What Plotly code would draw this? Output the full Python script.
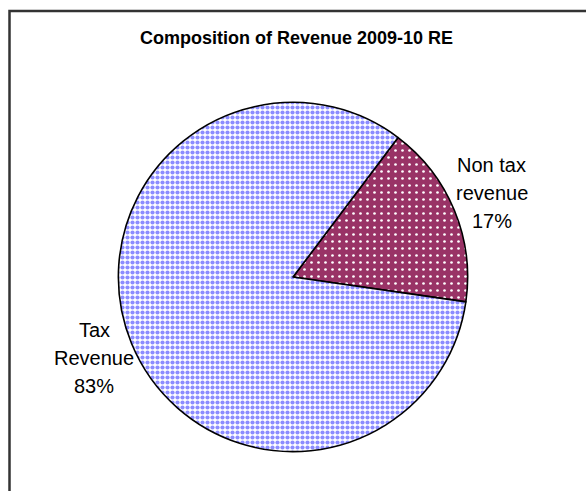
import plotly.graph_objects as go

# Revenue composition, 2009-10 revised estimates (percent shares)
labels = ["Non tax revenue", "Tax Revenue"]
label_lines = [["Non tax", "revenue"], ["Tax", "Revenue"]]
shares = [17, 83]

base_colors = ["#993366", "#9999FF"]
pattern_bg = ["#993366", "#FFFFFF"]
pattern_fg = ["#FFFFFF", "#8C8CFF"]
pattern_shape = [".", "."]
pattern_size = [7, 5]
pattern_solidity = [0.12, 0.55]

W, H = 586, 491

fig = go.Figure()
fig.add_trace(go.Pie(
    labels=labels,
    values=shares,
    sort=False,
    direction="clockwise",
    rotation=37,
    textinfo="none",
    hoverinfo="label+percent",
    showlegend=False,
    marker=dict(
        colors=base_colors,
        line=dict(color="#000000", width=1.6),
        pattern=dict(
            shape=pattern_shape,
            bgcolor=pattern_bg,
            fgcolor=pattern_fg,
            size=pattern_size,
            solidity=pattern_solidity,
            fillmode="replace",
        ),
    ),
    domain=dict(x=[0.2020, 0.7980], y=[0.0794, 0.7923]),
))

# Slice labels: name over two lines, then the share, 28 px apart
label_pos = [(492, 165), (94, 330)]
line_gap = 28
font = dict(family="Liberation Sans, Arial, sans-serif", size=20, color="#000000")
for lines, share, (px, py) in zip(label_lines, shares, label_pos):
    for i, txt in enumerate(lines + [f"{share}%"]):
        fig.add_annotation(
            text=txt,
            x=px / W, y=1 - (py + i * line_gap) / H,
            xref="paper", yref="paper",
            xanchor="center", yanchor="middle",
            showarrow=False, align="center",
            font=font,
        )

# Chart title
fig.add_annotation(
    text="<b>Composition of Revenue 2009-10 RE</b>",
    x=296 / W, y=1 - 38 / H,
    xref="paper", yref="paper",
    xanchor="center", yanchor="middle",
    showarrow=False,
    font=dict(family="Liberation Sans, Arial, sans-serif", size=18, color="#000000"),
)

# Chart frame: left and top edges (the rest runs past the page)
fx, fy = 9.5 / W, 1 - 11 / H
fig.add_shape(
    type="path", xref="paper", yref="paper",
    path=f"M {fx},-0.1 L {fx},{fy} L 1.1,{fy}",
    line=dict(color="#333333", width=2.5),
)

fig.update_layout(
    width=W, height=H,
    margin=dict(l=0, r=0, t=0, b=0),
    paper_bgcolor="#FFFFFF",
    plot_bgcolor="#FFFFFF",
)

fig.write_html("out.html", config={"displayModeBar": False})
